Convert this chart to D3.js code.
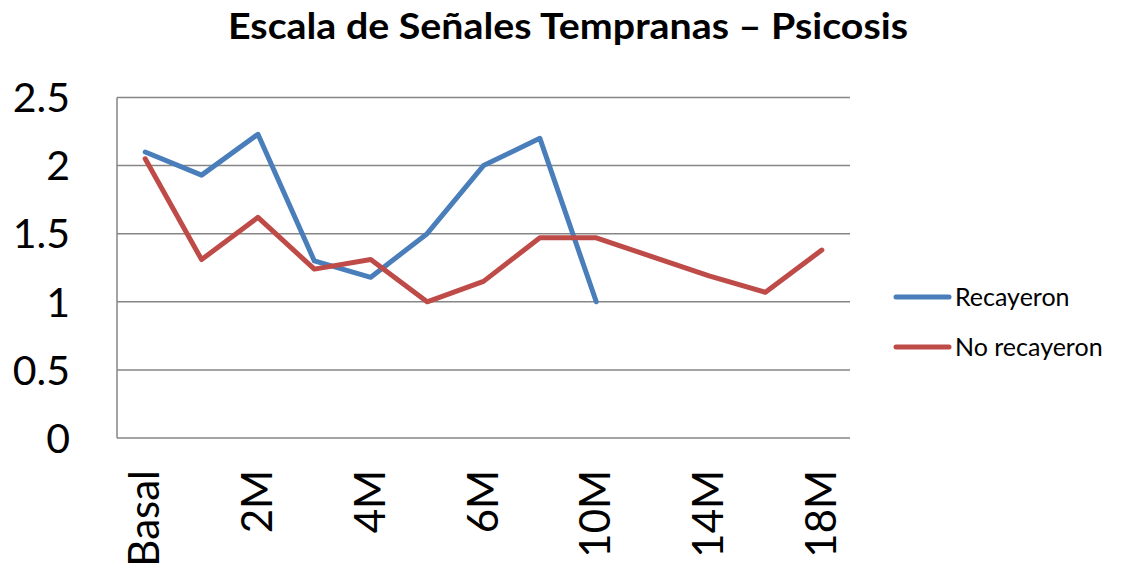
<!DOCTYPE html>
<html>
<head>
<meta charset="utf-8">
<script src="https://cdn.jsdelivr.net/npm/d3@7"></script>
<style>
  body { margin: 0; background: #fff; }
  svg { display: block; font-family: Lato, "Open Sans", sans-serif; }
</style>
</head>
<body>
<svg id="chart" width="1122" height="575"></svg>
<script>
let categories = ["Basal", "1M", "2M", "3M", "4M", "5M", "6M", "8M", "10M", "12M", "14M", "16M", "18M"]
let shownLabels = ["Basal", "2M", "4M", "6M", "10M", "14M", "18M"]
let recayeron = [2.10, 1.93, 2.23, 1.30, 1.18, 1.50, 2.00, 2.20, 1.00, null, null, null, null]
let noRecayeron = [2.05, 1.31, 1.62, 1.24, 1.31, 1.00, 1.15, 1.47, 1.47, 1.33, 1.19, 1.07, 1.38]
let yTicks = [0, 0.5, 1, 1.5, 2, 2.5]

let series = [
  { name: "Recayeron", values: recayeron, color: "#4a7ebb" },
  { name: "No recayeron", values: noRecayeron, color: "#be4b48" }
]

let svg = d3.select("#chart")
let plotLeft = 117, plotRight = 850, plotTop = 97.5, plotBottom = 438

let x = d3.scaleBand().domain(categories).range([plotLeft, plotRight])
let y = d3.scaleLinear().domain([0, 2.5]).range([plotBottom, plotTop])

// gridlines
svg.append("g")
  .selectAll("line")
  .data(yTicks)
  .enter().append("line")
    .attr("x1", plotLeft).attr("x2", plotRight)
    .attr("y1", d => y(d)).attr("y2", d => y(d))
    .style("stroke", "#868686").style("stroke-width", 1.5)

// left axis line
svg.append("line")
  .attr("x1", plotLeft).attr("x2", plotLeft).attr("y1", plotTop).attr("y2", plotBottom)
  .style("stroke", "#868686").style("stroke-width", 1.5)

// y labels
svg.append("g")
  .selectAll("text")
  .data(yTicks)
  .enter().append("text")
    .attr("x", 70)
    .attr("y", d => y(d))
    .attr("dy", "0.36em")
    .attr("text-anchor", "end")
    .style("font-size", "41px")
    .text(d => d)

// x labels, rotated
svg.append("g")
  .selectAll("text")
  .data(shownLabels)
  .enter().append("text")
    .attr("transform", d => `translate(${x(d) + x.bandwidth() / 2 + 14},470) rotate(-90)`)
    .attr("text-anchor", "end")
    .style("font-size", "42px")
    .text(d => d)

let line = d3.line()
  .defined(d => d.v !== null)
  .x(d => x(d.c) + x.bandwidth() / 2)
  .y(d => y(d.v))

svg.append("g")
  .selectAll("path")
  .data(series)
  .enter().append("path")
    .attr("d", s => line(categories.map((c, i) => ({ c: c, v: s.values[i] }))))
    .style("fill", "none")
    .style("stroke", s => s.color)
    .style("stroke-width", 5)
    .style("stroke-linejoin", "round")
    .style("stroke-linecap", "round")

// title
svg.append("text")
  .attr("x", 568).attr("y", 39)
  .attr("text-anchor", "middle")
  .attr("textLength", 680).attr("lengthAdjust", "spacingAndGlyphs")
  .style("font-size", "36px").style("font-weight", "bold")
  .text("Escala de Señales Tempranas – Psicosis")

// legend
let legend = svg.append("g")
  .selectAll("g")
  .data(series)
  .enter().append("g")
    .attr("transform", (d, i) => `translate(0,${297 + i * 50})`)

legend.append("line")
  .attr("x1", 896).attr("x2", 949)
  .style("stroke", d => d.color).style("stroke-width", 5).style("stroke-linecap", "round")

legend.append("text")
  .attr("x", 955).attr("dy", "0.36em")
  .style("font-size", "25px")
  .text(d => d.name)
</script>
</body>
</html>
